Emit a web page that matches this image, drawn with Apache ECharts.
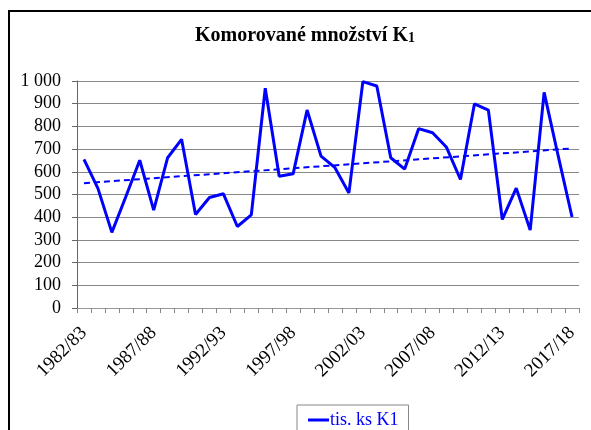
<!DOCTYPE html>
<html>
<head>
<meta charset="utf-8">
<script src="https://cdn.jsdelivr.net/npm/echarts@6/dist/echarts.min.js"></script>
<style>
  html, body { margin: 0; padding: 0; background: #fff; }
  #main { width: 591px; height: 430px; }
</style>
</head>
<body>
<div id="main"></div>
<script>
// 年份
var years = [
  "1982/83", "1983/84", "1984/85", "1985/86", "1986/87", "1987/88", "1988/89", "1989/90",
  "1990/91", "1991/92", "1992/93", "1993/94", "1994/95", "1995/96", "1996/97", "1997/98",
  "1998/99", "1999/00", "2000/01", "2001/02", "2002/03", "2003/04", "2004/05", "2005/06",
  "2006/07", "2007/08", "2008/09", "2009/10", "2010/11", "2011/12", "2012/13", "2013/14",
  "2014/15", "2015/16", "2016/17", "2017/18"
];
// tis. ks K1
var values = [
  655, 527, 333, 490, 651, 431, 662, 743, 412, 487, 503, 359,
  410, 968, 580, 591, 872, 669, 618, 507, 997, 978, 662, 612,
  790, 772, 708, 566, 899, 872, 390, 528, 343, 950, 672, 401
];
// 趋势线起点和终点
var trend = [550, 703];

var myChart = echarts.init(document.getElementById("main"));

var serif = "'Liberation Serif', 'DejaVu Serif', serif";

var option = {
  backgroundColor: "#fff",
  animation: false,
  title: {
    text: "{a|Komorované množství K}{b|1}",
    left: 305,
    textAlign: "center",
    top: 21,
    textStyle: {
      rich: {
        a: { fontFamily: serif, fontWeight: "bold", fontSize: 20, color: "#000" },
        b: { fontFamily: serif, fontWeight: "bold", fontSize: 14, color: "#000", padding: [4, 0, 0, 0] }
      }
    }
  },
  graphic: [
    {
      type: "rect",
      shape: { x: 9, y: 11, width: 600, height: 440 },
      style: { fill: null, stroke: "#000", lineWidth: 2 },
      silent: true
    }
  ],
  legend: {
    left: 297,
    top: 405,
    padding: [6, 10, 10, 11],
    borderColor: "#888",
    borderWidth: 1,
    icon: "rect",
    itemWidth: 21,
    itemHeight: 3,
    itemGap: 2,
    data: ["tis. ks K1"],
    textStyle: { fontFamily: serif, fontSize: 18, color: "#0000ff", padding: [0, 0, 0, -4] }
  },
  grid: { left: 77, right: 12, top: 81, bottom: 122 },
  xAxis: {
    type: "category",
    data: years,
    boundaryGap: true,
    axisLine: { lineStyle: { color: "#999", width: 1 } },
    axisTick: { show: true, interval: 0, length: 5, lineStyle: { color: "#888" } },
    axisLabel: {
      interval: 4,
      rotate: 45,
      fontFamily: serif,
      fontSize: 19,
      color: "#000",
      margin: 22
    }
  },
  yAxis: {
    type: "value",
    min: 0,
    max: 1000,
    interval: 100,
    axisLine: { show: true, lineStyle: { color: "#666", width: 1 } },
    axisTick: { show: true, length: 5, lineStyle: { color: "#666" } },
    splitLine: { lineStyle: { color: "#888", width: 1 } },
    axisLabel: {
      fontFamily: serif,
      fontSize: 18,
      color: "#000",
      margin: 16,
      formatter: function (v) {
        return v === 1000 ? "1 000" : String(v);
      }
    }
  },
  series: [
    {
      name: "tis. ks K1",
      type: "line",
      data: values,
      symbol: "none",
      lineStyle: { color: "#0000ff", width: 3 },
      itemStyle: { color: "#0000ff" },
      markLine: {
        silent: true,
        symbol: "none",
        label: { show: false },
        lineStyle: { color: "#0000ff", width: 2, type: [6, 4] },
        data: [
          [
            { coord: [years[0], trend[0]] },
            { coord: [years[years.length - 1], trend[1]] }
          ]
        ]
      }
    }
  ]
};

option.title.left = 300;

myChart.setOption(option);
</script>
</body>
</html>
